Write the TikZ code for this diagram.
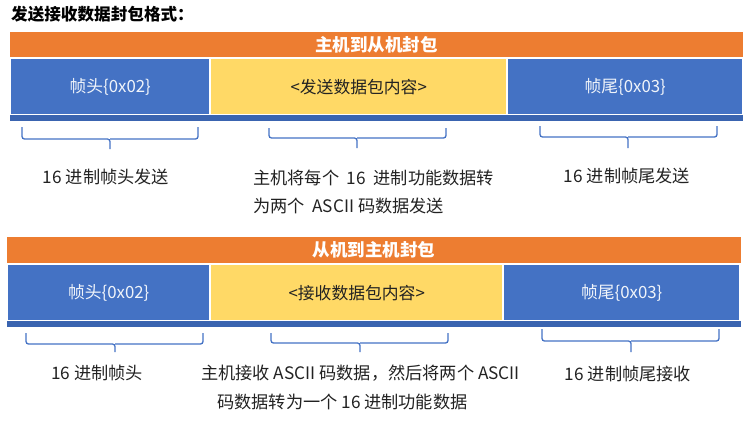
\documentclass[tikz,border=0pt]{standalone}
\usepackage{fontspec}
\setmainfont{Noto Sans CJK SC}
\definecolor{hdrorange}{HTML}{ED7D31}
\definecolor{boxblue}{HTML}{4472C4}
\definecolor{boxyellow}{HTML}{FFD966}
\definecolor{stripblue}{HTML}{3A64B0}
\definecolor{txtdark}{HTML}{222222}
\tikzset{
  hdrbar/.style={fill=hdrorange, inner sep=0, anchor=north west, text=white, font=\fontsize{17.5}{20}\selectfont\bfseries},
  bluebox/.style={fill=boxblue, inner sep=0, anchor=north west, text=white!92!boxblue, font=\fontsize{16.8}{20}\selectfont},
  yellowbox/.style={fill=boxyellow, inner sep=0, anchor=north west, text=txtdark, font=\fontsize{16.8}{20}\selectfont},
  stripbar/.style={fill=stripblue, inner sep=0, anchor=north west},
  bracepath/.style={draw=boxblue, line width=1.3pt, rounded corners=2.5pt},
  lbl/.style={inner sep=0, text=txtdark, font=\fontsize{17.2}{20}\selectfont},
}
\begin{document}
\begin{tikzpicture}[x=1pt,y=-1pt]
\useasboundingbox (0,0) rectangle (752,421);
% title
\node[inner sep=0, anchor=west, text=black, font=\fontsize{16.6}{20}\selectfont\bfseries] (title) at (11,14) {发送接收数据封包格式：};

% ---------- top section ----------
\node[hdrbar, minimum width=733pt, minimum height=25pt] (hdrA) at (10,32) {主机到从机封包};
\node[bluebox, minimum width=198pt, minimum height=55pt] (headA) at (11,59) {帧头\{0x02\}};
\node[yellowbox, minimum width=295pt, minimum height=55pt] (dataA) at (211,59) {<发送数据包内容>};
\node[bluebox, minimum width=234pt, minimum height=55pt] (tailA) at (508,59) {帧尾\{0x03\}};
\node[stripbar, minimum width=733pt, minimum height=6pt] (stripA) at (10,115) {};

% braces top
\draw[bracepath] (22,127) -- (22,139) -- (110,139) -- (110,149);
\draw[bracepath] (198,127) -- (198,139) -- (110,139);
\draw[bracepath] (269,128) -- (269,138) -- (357,138) -- (357,148);
\draw[bracepath] (446,128) -- (446,138) -- (357,138);
\draw[bracepath] (540,126) -- (540,137) -- (628,137) -- (628,148);
\draw[bracepath] (717,126) -- (717,137) -- (628,137);

% labels top
\node[lbl] (lblA1) at (106,177) {16 进制帧头发送};
\node[lbl, anchor=west] (lblA2a) at (253,178) {主机将每个\ \ 16\ \ 进制功能数据转};
\node[lbl, anchor=west] (lblA2b) at (253,206) {为两个\ \ ASCII 码数据发送};
\node[lbl] (lblA3) at (627,176) {16 进制帧尾发送};

% ---------- bottom section ----------
\node[hdrbar, minimum width=734pt, minimum height=26pt] (hdrB) at (7,237) {从机到主机封包};
\node[bluebox, minimum width=201pt, minimum height=55pt] (headB) at (8,265) {帧头\{0x02\}};
\node[yellowbox, minimum width=291pt, minimum height=55pt] (dataB) at (211,265) {<接收数据包内容>};
\node[bluebox, minimum width=235pt, minimum height=55pt] (tailB) at (504,265) {帧尾\{0x03\}};
\node[stripbar, minimum width=734pt, minimum height=6pt] (stripB) at (7,321) {};

% braces bottom
\draw[bracepath] (26,333) -- (26,344) -- (115,344) -- (115,352);
\draw[bracepath] (203,333) -- (203,344) -- (115,344);
\draw[bracepath] (271,333) -- (271,343) -- (360,343) -- (360,352);
\draw[bracepath] (448,333) -- (448,343) -- (360,343);
\draw[bracepath] (542,329) -- (542,341) -- (631,341) -- (631,352);
\draw[bracepath] (719,329) -- (719,341) -- (631,341);

% labels bottom
\node[lbl] (lblB1) at (97,373) {16 进制帧头};
\node[lbl, anchor=west] (lblB2a) at (201,373) {主机接收 ASCII 码数据，然后将两个 ASCII};
\node[lbl, anchor=west] (lblB2b) at (217,402) {码数据转为一个 16 进制功能数据};
\node[lbl] (lblB3) at (628,374) {16 进制帧尾接收};
\end{tikzpicture}
\end{document}
